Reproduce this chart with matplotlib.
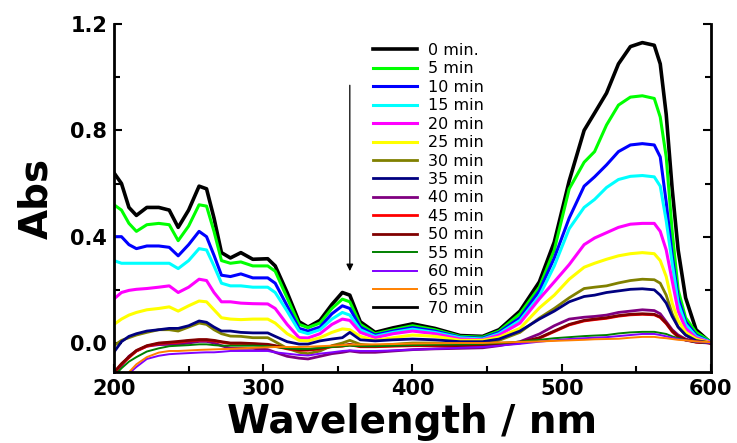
import matplotlib.pyplot as plt
from matplotlib.ticker import MultipleLocator

# wavelength grid (nm)
wavelength = [200, 205, 210, 215, 222, 230, 237, 243, 250, 257,
              262, 267, 272, 278, 285, 293, 303, 308, 316, 324,
              330, 338, 346, 353, 358, 365, 375, 387, 400, 415,
              432, 447, 458, 472, 485, 495, 505, 515, 522, 530,
              538, 546, 554, 562, 566, 570, 574, 578, 583, 590, 600]

abs_0 = [0.64, 0.60, 0.51, 0.48, 0.51, 0.51, 0.50, 0.435, 0.50, 0.59,
         0.58, 0.47, 0.34, 0.32, 0.34, 0.315, 0.317, 0.29, 0.19, 0.08,
         0.06, 0.085, 0.145, 0.19, 0.18, 0.08, 0.04, 0.057, 0.072, 0.055,
         0.028, 0.025, 0.05, 0.12, 0.23, 0.38, 0.61, 0.80, 0.865, 0.94,
         1.05, 1.115, 1.13, 1.12, 1.05, 0.86, 0.58, 0.35, 0.17, 0.05, 0.0]
abs_5 = [0.52, 0.50, 0.45, 0.42, 0.445, 0.45, 0.445, 0.385, 0.44, 0.52,
         0.515, 0.42, 0.31, 0.30, 0.305, 0.29, 0.29, 0.27, 0.17, 0.07,
         0.058, 0.075, 0.13, 0.165, 0.155, 0.07, 0.035, 0.05, 0.065, 0.05,
         0.025, 0.022, 0.045, 0.11, 0.21, 0.35, 0.58, 0.68, 0.72, 0.82,
         0.895, 0.925, 0.93, 0.92, 0.85, 0.70, 0.42, 0.20, 0.095, 0.04, 0.005]
abs_10 = [0.40, 0.40, 0.37, 0.355, 0.365, 0.365, 0.36, 0.328, 0.37, 0.42,
          0.40, 0.33, 0.255, 0.25, 0.26, 0.245, 0.245, 0.225, 0.14, 0.055,
          0.045, 0.06, 0.11, 0.14, 0.13, 0.06, 0.03, 0.045, 0.058, 0.045,
          0.022, 0.018, 0.04, 0.095, 0.196, 0.32, 0.47, 0.59, 0.625, 0.67,
          0.72, 0.745, 0.75, 0.745, 0.70, 0.53, 0.33, 0.17, 0.08, 0.03, 0.003]
abs_15 = [0.31, 0.30, 0.30, 0.30, 0.30, 0.30, 0.30, 0.28, 0.31, 0.355,
          0.35, 0.29, 0.225, 0.215, 0.215, 0.21, 0.21, 0.19, 0.12, 0.045,
          0.035, 0.05, 0.09, 0.115, 0.105, 0.05, 0.025, 0.04, 0.052, 0.04,
          0.02, 0.015, 0.035, 0.085, 0.177, 0.29, 0.43, 0.51, 0.54, 0.585,
          0.615, 0.627, 0.63, 0.625, 0.59, 0.46, 0.30, 0.15, 0.07, 0.025, 0.003]
abs_20 = [0.166, 0.19, 0.198, 0.202, 0.205, 0.21, 0.215, 0.19, 0.21, 0.24,
          0.235, 0.19, 0.155, 0.155, 0.15, 0.148, 0.147, 0.13, 0.07, 0.02,
          0.019, 0.035, 0.07, 0.09, 0.085, 0.04, 0.02, 0.035, 0.045, 0.035,
          0.015, 0.012, 0.03, 0.075, 0.166, 0.23, 0.295, 0.37, 0.395, 0.415,
          0.435, 0.447, 0.45, 0.45, 0.42, 0.35, 0.234, 0.12, 0.055, 0.02, 0.002]
abs_25 = [0.07, 0.09, 0.105, 0.115, 0.125, 0.13, 0.136, 0.12, 0.14, 0.158,
          0.155, 0.125, 0.095, 0.09, 0.088, 0.09, 0.09, 0.075, 0.035, 0.01,
          0.008, 0.02, 0.04, 0.053, 0.05, 0.025, 0.01, 0.02, 0.03, 0.025,
          0.01, 0.01, 0.022, 0.055, 0.132, 0.18, 0.24, 0.285, 0.30, 0.315,
          0.328, 0.336, 0.34, 0.336, 0.31, 0.25, 0.15, 0.085, 0.04, 0.015, 0.0]
abs_30 = [-0.01, 0.01, 0.02, 0.03, 0.04, 0.05, 0.05, 0.045, 0.06, 0.075,
          0.07, 0.05, 0.035, 0.026, 0.025, 0.02, 0.02, 0.005, -0.02, -0.035,
          -0.04, -0.03, -0.01, 0.0, 0.01, -0.005, -0.01, -0.005, 0.0, 0.0,
          -0.005, 0.0, 0.01, 0.04, 0.094, 0.13, 0.17, 0.205, 0.21, 0.215,
          0.226, 0.235, 0.24, 0.238, 0.225, 0.18, 0.11, 0.06, 0.03, 0.01, 0.0]
abs_35 = [-0.034, 0.005, 0.025, 0.035, 0.045, 0.05, 0.055, 0.055, 0.065, 0.083,
          0.078, 0.06, 0.045, 0.045, 0.04, 0.038, 0.038, 0.025, 0.005, -0.004,
          -0.004, 0.008, 0.015, 0.02, 0.04, 0.012, 0.008, 0.012, 0.015, 0.012,
          0.005, 0.005, 0.015, 0.045, 0.09, 0.12, 0.155, 0.175, 0.18, 0.19,
          0.196, 0.202, 0.204, 0.2, 0.18, 0.15, 0.10, 0.06, 0.03, 0.008, 0.0]
abs_40 = [-0.12, -0.085, -0.05, -0.03, -0.012, -0.006, -0.005, -0.005, 0.0, 0.006,
          0.006, 0.0, -0.01, -0.02, -0.02, -0.02, -0.025, -0.035, -0.05, -0.057,
          -0.06, -0.05, -0.04, -0.035, -0.03, -0.035, -0.035, -0.03, -0.025, -0.022,
          -0.02, -0.018, -0.01, 0.005, 0.034, 0.065, 0.09, 0.097, 0.10, 0.105,
          0.115, 0.12, 0.125, 0.122, 0.11, 0.08, 0.05, 0.03, 0.015, 0.005, 0.0]
abs_45 = [-0.112, -0.08, -0.055, -0.03, -0.012, -0.002, 0.001, 0.003, 0.008, 0.011,
          0.011, 0.008, 0.003, -0.002, -0.002, -0.004, -0.007, -0.012, -0.022, -0.027,
          -0.027, -0.022, -0.014, -0.012, -0.007, -0.014, -0.014, -0.012, -0.01, -0.01,
          -0.012, -0.01, -0.007, 0.0, 0.018, 0.043, 0.068, 0.083, 0.088, 0.093,
          0.101, 0.106, 0.108, 0.106, 0.096, 0.073, 0.043, 0.023, 0.011, 0.003, 0.0]
abs_50 = [-0.11, -0.078, -0.052, -0.028, -0.01, 0.0, 0.003, 0.006, 0.01, 0.013,
          0.013, 0.01, 0.005, 0.0, 0.0, -0.002, -0.005, -0.01, -0.02, -0.025,
          -0.025, -0.02, -0.012, -0.01, -0.005, -0.012, -0.012, -0.01, -0.008, -0.008,
          -0.01, -0.008, -0.005, 0.002, 0.02, 0.045, 0.07, 0.085, 0.09, 0.095,
          0.103, 0.108, 0.11, 0.108, 0.098, 0.075, 0.045, 0.025, 0.012, 0.004, 0.0]
abs_55 = [-0.125, -0.095, -0.07, -0.053, -0.032, -0.02, -0.012, -0.01, -0.008, -0.005,
          -0.005, -0.008, -0.01, -0.01, -0.01, -0.01, -0.012, -0.015, -0.02, -0.022,
          -0.022, -0.018, -0.015, -0.012, -0.01, -0.012, -0.012, -0.01, -0.008, -0.006,
          -0.005, -0.003, 0.0, 0.005, 0.012, 0.018, 0.022, 0.026, 0.028, 0.03,
          0.036, 0.04, 0.042, 0.042, 0.038, 0.034, 0.025, 0.018, 0.01, 0.004, 0.0]
abs_60 = [-0.16, -0.14, -0.115, -0.09, -0.06, -0.048, -0.042, -0.04, -0.038, -0.036,
          -0.035, -0.035, -0.033, -0.03, -0.03, -0.03, -0.03, -0.035, -0.04, -0.045,
          -0.047, -0.04, -0.035, -0.03, -0.028, -0.03, -0.03, -0.028, -0.025, -0.022,
          -0.018, -0.015, -0.01, -0.003, 0.005, 0.01, 0.015, 0.018, 0.02, 0.022,
          0.026, 0.03, 0.034, 0.034, 0.03, 0.025, 0.02, 0.015, 0.01, 0.005, 0.0]
abs_65 = [-0.15, -0.13, -0.11, -0.08, -0.053, -0.036, -0.03, -0.03, -0.028, -0.026,
          -0.025, -0.024, -0.023, -0.022, -0.02, -0.018, -0.016, -0.015, -0.015, -0.015,
          -0.014, -0.012, -0.01, -0.008, -0.006, -0.006, -0.005, -0.004, -0.002, -0.001,
          0.0, 0.0, 0.002, 0.004, 0.006, 0.008, 0.01, 0.012, 0.014, 0.015,
          0.016, 0.02, 0.023, 0.023, 0.02, 0.018, 0.015, 0.012, 0.01, 0.006, 0.003]
# 70 min is not visible in the picture (lies below the plotted range)
abs_70 = [-0.20, -0.19, -0.185, -0.18, -0.175, -0.17, -0.168, -0.166, -0.165, -0.164,
          -0.163, -0.162, -0.161, -0.16, -0.16, -0.158, -0.157, -0.156, -0.156, -0.157,
          -0.157, -0.156, -0.155, -0.154, -0.153, -0.152, -0.151, -0.15, -0.15, -0.149,
          -0.148, -0.147, -0.146, -0.145, -0.144, -0.143, -0.142, -0.141, -0.14, -0.14,
          -0.139, -0.138, -0.138, -0.138, -0.138, -0.138, -0.138, -0.138, -0.138, -0.138, -0.138]

labels = ["0 min.", "5 min", "10 min", "15 min", "20 min", "25 min", "30 min",
          "35 min", "40 min", "45 min", "50 min", "55 min", "60 min", "65 min",
          "70 min"]
colors = ["#000000", "#00ff00", "#0000ff", "#00ffff", "#ff00ff", "#ffff00",
          "#808000", "#000080", "#800080", "#ff0000", "#800000", "#008000",
          "#8000ff", "#ff8000", "#000000"]
widths = [2.6, 2.2, 2.2, 2.2, 2.2, 2.2, 2.0, 2.0, 2.0, 2.0, 2.0, 1.4, 1.4, 1.4, 2.0]

series = [abs_0, abs_5, abs_10, abs_15, abs_20, abs_25, abs_30, abs_35,
          abs_40, abs_45, abs_50, abs_55, abs_60, abs_65, abs_70]

fig = plt.figure(figsize=(7.37, 4.43), dpi=100)
ax = fig.add_axes([0.1547, 0.1603, 0.8100, 0.7855])

for y, c, lw, lab in zip(series, colors, widths, labels):
    ax.plot(wavelength, y, color=c, lw=lw, label=lab)

ax.set_xlim(200, 600)
ax.set_ylim(-0.109, 1.2)
ax.xaxis.set_major_locator(MultipleLocator(100))
ax.xaxis.set_minor_locator(MultipleLocator(50))
ax.yaxis.set_major_locator(MultipleLocator(0.4))
ax.yaxis.set_minor_locator(MultipleLocator(0.2))
ax.yaxis.set_major_formatter(plt.FuncFormatter(lambda v, p: f"{v:.1f}"))

ax.spines['top'].set_visible(False)
for s in ['left', 'right', 'bottom']:
    ax.spines[s].set_linewidth(2)
ax.tick_params(which='both', direction='in', right=True, top=False, width=1.5)
ax.tick_params(which='major', length=6, pad=5)
ax.tick_params(which='minor', length=4)
for t in ax.get_xticklabels() + ax.get_yticklabels():
    t.set_fontweight('bold')
    t.set_fontsize(15)

ax.set_xlabel("Wavelength / nm", fontsize=28, fontweight='bold', labelpad=3)
ax.set_ylabel("Abs", fontsize=28, fontweight='bold', labelpad=11)

ax.annotate("", xy=(358, 0.26), xytext=(358, 0.98),
            arrowprops=dict(arrowstyle='-|>', color='black', lw=0.9,
                            mutation_scale=10))

leg = ax.legend(loc='upper left', bbox_to_anchor=(373 / 737, 1 - 43 / 443),
                bbox_transform=fig.transFigure, frameon=False, fontsize=11.5,
                handlelength=2.75, handletextpad=0.7, labelspacing=0.215,
                borderpad=0, borderaxespad=0)

fig.savefig("out.png", dpi=100)
